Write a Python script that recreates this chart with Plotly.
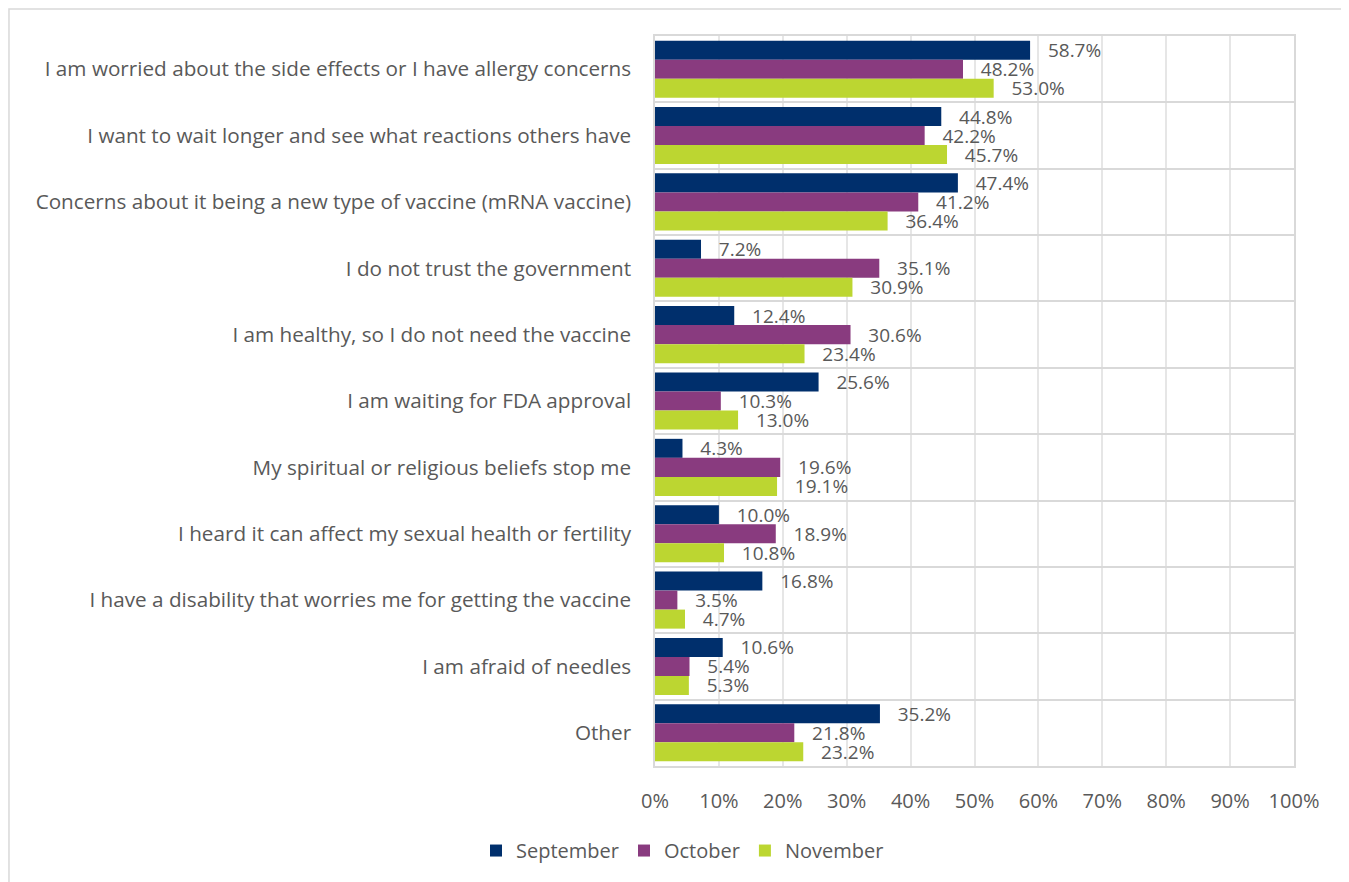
import plotly.graph_objects as go

categories = [
    "I am worried about the side effects or I have allergy concerns",
    "I want to wait longer and see what reactions others have",
    "Concerns about it being a new type of vaccine (mRNA vaccine)",
    "I do not trust the government",
    "I am healthy, so I do not need the vaccine",
    "I am waiting for FDA approval",
    "My spiritual or religious beliefs stop me",
    "I heard it can affect my sexual health or fertility",
    "I have a disability that worries me for getting the vaccine",
    "I am afraid of needles",
    "Other",
]
september = [58.7, 44.8, 47.4, 7.2, 12.4, 25.6, 4.3, 10.0, 16.8, 10.6, 35.2]
october = [48.2, 42.2, 41.2, 35.1, 30.6, 10.3, 19.6, 18.9, 3.5, 5.4, 21.8]
november = [53.0, 45.7, 36.4, 30.9, 23.4, 13.0, 19.1, 10.8, 4.7, 5.3, 23.2]
x_ticks = list(range(0, 101, 10))

series = [
    ("September", september, "#002F6C"),
    ("October", october, "#893B7F"),
    ("November", november, "#BCD631"),
]

FONT = "'Open Sans', sans-serif"
GRAY = "#595959"

fig = go.Figure()
for name, vals, color in series:
    fig.add_trace(go.Bar(
        y=categories,
        x=vals,
        name=name,
        orientation="h",
        marker=dict(color=color, line=dict(width=0)),
        text=[f"{v:.1f}%" for v in vals],
        texttemplate="   %{text}",
        textposition="outside",
        textfont=dict(size=19, color=GRAY, family=FONT),
        constraintext="none",
        cliponaxis=False,
    ))

# outer chart-area border
fig.add_shape(
    type="rect", xref="paper", yref="paper",
    x0=-1.011, x1=1.1, y0=-0.2, y1=1.037,
    line=dict(color="#D9D9D9", width=1.5), fillcolor="rgba(0,0,0,0)",
    layer="below",
)

fig.update_layout(
    width=1341,
    height=874,
    margin=dict(l=647, r=55, t=28, b=116),
    barmode="group",
    bargap=0.14,
    bargroupgap=0,
    plot_bgcolor="white",
    paper_bgcolor="white",
    font=dict(family=FONT, size=19, color=GRAY),
    showlegend=True,
    legend=dict(
        orientation="h",
        xref="container", yref="container",
        x=0.503, xanchor="center",
        y=0.036, yanchor="middle",
        font=dict(size=20, color=GRAY, family=FONT),
        itemwidth=30,
    ),
    xaxis=dict(
        range=[0, 100],
        tickvals=x_ticks,
        ticktext=[f"{t}%" for t in x_ticks],
        showgrid=True,
        gridcolor="#E6E6E6",
        gridwidth=1.5,
        zeroline=False,
        showline=True,
        linecolor="#D9D9D9",
        linewidth=1.5,
        mirror=True,
        ticks="",
        ticklabelstandoff=16,
        tickfont=dict(size=20, color=GRAY),
        fixedrange=True,
    ),
    yaxis=dict(
        type="category",
        autorange="reversed",
        tickson="boundaries",
        showgrid=True,
        gridcolor="#D9D9D9",
        gridwidth=1.5,
        showline=True,
        linecolor="#D9D9D9",
        linewidth=1.5,
        mirror=True,
        ticks="",
        ticklabelstandoff=18,
        tickfont=dict(size=20.7, color=GRAY),
        fixedrange=True,
    ),
)

fig.write_html("out.html")
